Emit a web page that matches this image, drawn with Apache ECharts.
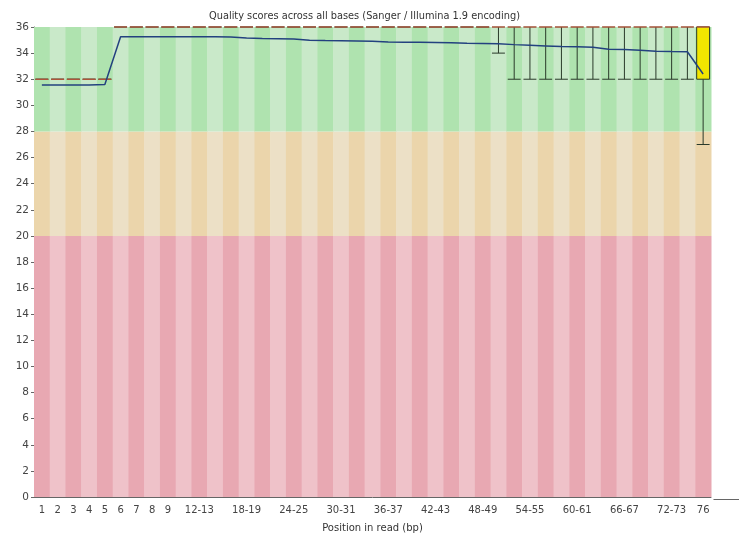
<!DOCTYPE html>
<html>
<head>
<meta charset="utf-8">
<script src="https://cdn.jsdelivr.net/npm/echarts@6/dist/echarts.min.js"></script>
<style>
html,body{margin:0;padding:0;background:#fff;}
#chart{width:739px;height:539px;}
</style>
</head>
<body>
<div id="chart"></div>
<script>
// ---- Data ----
var categories = ['1','2','3','4','5','6','7','8','9',
  '10-11','12-13','14-15','16-17','18-19','20-21','22-23','24-25','26-27','28-29',
  '30-31','32-33','34-35','36-37','38-39','40-41','42-43','44-45','46-47','48-49',
  '50-51','52-53','54-55','56-57','58-59','60-61','62-63','64-65','66-67','68-69',
  '70-71','72-73','74-75','76'];

var shownLabels = ['1','2','3','4','5','6','7','8','9','12-13','18-19','24-25','30-31',
  '36-37','42-43','48-49','54-55','60-61','66-67','72-73','76'];

var meanQuality = [31.55,31.55,31.55,31.55,31.6,35.25,35.25,35.25,35.25,35.25,
  35.25,35.25,35.24,35.15,35.12,35.1,35.08,34.98,34.96,34.95,
  34.93,34.9,34.85,34.84,34.83,34.82,34.8,34.75,34.74,34.72,
  34.65,34.6,34.55,34.5,34.48,34.45,34.3,34.28,34.22,34.15,
  34.12,34.1,32.4];

var p10 = [32,32,32,32,32,36,36,36,36,36,36,36,36,36,36,36,36,36,36,36,
  36,36,36,36,36,36,36,36,36,34,32,32,32,32,32,32,32,32,32,32,32,32,27];
var q1  = [32,32,32,32,32,36,36,36,36,36,36,36,36,36,36,36,36,36,36,36,
  36,36,36,36,36,36,36,36,36,36,36,36,36,36,36,36,36,36,36,36,36,36,32];
var median = [32,32,32,32,32,36,36,36,36,36,36,36,36,36,36,36,36,36,36,36,
  36,36,36,36,36,36,36,36,36,36,36,36,36,36,36,36,36,36,36,36,36,36,36];
var q3  = [32,32,32,32,32,36,36,36,36,36,36,36,36,36,36,36,36,36,36,36,
  36,36,36,36,36,36,36,36,36,36,36,36,36,36,36,36,36,36,36,36,36,36,36];
var p90 = [32,32,32,32,32,36,36,36,36,36,36,36,36,36,36,36,36,36,36,36,
  36,36,36,36,36,36,36,36,36,36,36,36,36,36,36,36,36,36,36,36,36,36,36];

var bandEdges = [0, 20, 28, 36];
var yTicks = [0,2,4,6,8,10,12,14,16,18,20,22,24,26,28,30,32,34,36];

// ---- Styling ----
var bandDark  = ['#e8a8b2', '#ebd5ab', '#afe3af'];
var bandLight = ['#efc2c9', '#ece0c6', '#c9e9c9'];

var boxData = categories.map(function(c, i){ return [i, p10[i], q1[i], median[i], q3[i], p90[i]]; });
var bgData = categories.map(function(c, i){ return [i, bandEdges[0], bandEdges[bandEdges.length-1]]; });

var chart = echarts.init(document.getElementById('chart'), null, {renderer:'canvas'});
var GL = 34, GR = 28, GT = 27, GB = 42;
var font = 'DejaVu Sans';

chart.setOption({
  animation: false,
  backgroundColor: '#ffffff',
  title: {
    text: 'Quality scores across all bases (Sanger / Illumina 1.9 encoding)',
    left: 204, top: 6,
    textStyle: {fontFamily: font, fontSize: 9.8, fontWeight: 'normal', color: '#333'}
  },
  grid: {left: GL, right: GR, top: GT, bottom: GB},
  xAxis: {
    type: 'category',
    data: categories,
    boundaryGap: true,
    name: 'Position in read (bp)',
    nameLocation: 'middle',
    nameGap: 26,
    nameTextStyle: {fontFamily: font, fontSize: 10, color: '#333'},
    axisLine: {show: true, lineStyle: {color: '#666', width: 1}},
    axisTick: {show: false},
    axisLabel: {
      fontFamily: font, fontSize: 10, color: '#444', margin: 8,
      interval: function(idx, val){ return shownLabels.indexOf(val) >= 0; }
    },
    splitLine: {show: false}
  },
  yAxis: {
    type: 'value',
    min: 0, max: 36, interval: 2,
    axisLine: {show: true, lineStyle: {color: '#666', width: 1}},
    axisTick: {show: true, length: 3, lineStyle: {color: '#666'}},
    axisLabel: {fontFamily: font, fontSize: 10.5, color: '#444', margin: 5,
      formatter: function(v){ return yTicks.indexOf(v) >= 0 ? String(v) : ''; }},
    splitLine: {show: false}
  },
  graphic: [{
    type: 'line', left: 739 - GR, top: 539 - GB,
    shape: {x1: 0, y1: 0, x2: GR, y2: 0},
    style: {stroke: '#666', lineWidth: 1}
  }],
  series: [
    {
      type: 'custom',
      name: 'bands',
      z: 1,
      silent: true,
      data: bgData,
      encode: {x: 0, y: [1, 2]},
      renderItem: function(params, api){
        var i = api.value(0);
        var bw = api.size([1, 0])[0];
        var cx = api.coord([i, 0])[0];
        var children = [];
        for (var b = 0; b < bandEdges.length - 1; b++) {
          var top = api.coord([i, bandEdges[b+1]])[1];
          var bot = api.coord([i, bandEdges[b]])[1];
          children.push({
            type: 'rect',
            shape: {x: cx - bw/2, y: top, width: bw + 0.5, height: bot - top},
            style: {fill: (i % 2 === 0) ? bandDark[b] : bandLight[b]}
          });
        }
        return {type: 'group', children: children};
      }
    },
    {
      type: 'custom',
      name: 'box',
      z: 3,
      data: boxData,
      encode: {x: 0, y: [1, 2, 3, 4, 5]},
      renderItem: function(params, api){
        var i = api.value(0);
        var bw = api.size([1, 0])[0];
        var w = bw * 0.82;
        var cx = api.coord([i, 0])[0];
        var yLo = api.coord([i, api.value(1)])[1];
        var yQ1 = api.coord([i, api.value(2)])[1];
        var yMed = api.coord([i, api.value(3)])[1];
        var yQ3 = api.coord([i, api.value(4)])[1];
        var yHi = api.coord([i, api.value(5)])[1];
        var ws = {stroke: '#2a3a2a', lineWidth: 1};
        var c = [];
        c.push({type: 'line', shape: {x1: cx, y1: yLo, x2: cx, y2: yQ1}, style: ws});
        c.push({type: 'line', shape: {x1: cx, y1: yQ3, x2: cx, y2: yHi}, style: ws});
        c.push({type: 'line', shape: {x1: cx - w/2, y1: yLo, x2: cx + w/2, y2: yLo}, style: ws});
        c.push({type: 'line', shape: {x1: cx - w/2, y1: yHi, x2: cx + w/2, y2: yHi}, style: ws});
        if (yQ1 - yQ3 > 0.5) {
          c.push({type: 'rect', shape: {x: cx - w/2, y: yQ3, width: w, height: yQ1 - yQ3},
            style: {fill: '#f2e600', stroke: '#2a3a2a', lineWidth: 1}});
        }
        c.push({type: 'line', shape: {x1: cx - w/2, y1: yMed, x2: cx + w/2, y2: yMed},
          style: {stroke: '#dd5a3c', lineWidth: 1}});
        return {type: 'group', children: c};
      }
    },
    {
      type: 'line',
      name: 'mean',
      z: 5,
      data: meanQuality,
      symbol: 'none',
      lineStyle: {color: '#23417f', width: 1.5},
      silent: true
    }
  ]
});
</script>
</body>
</html>
